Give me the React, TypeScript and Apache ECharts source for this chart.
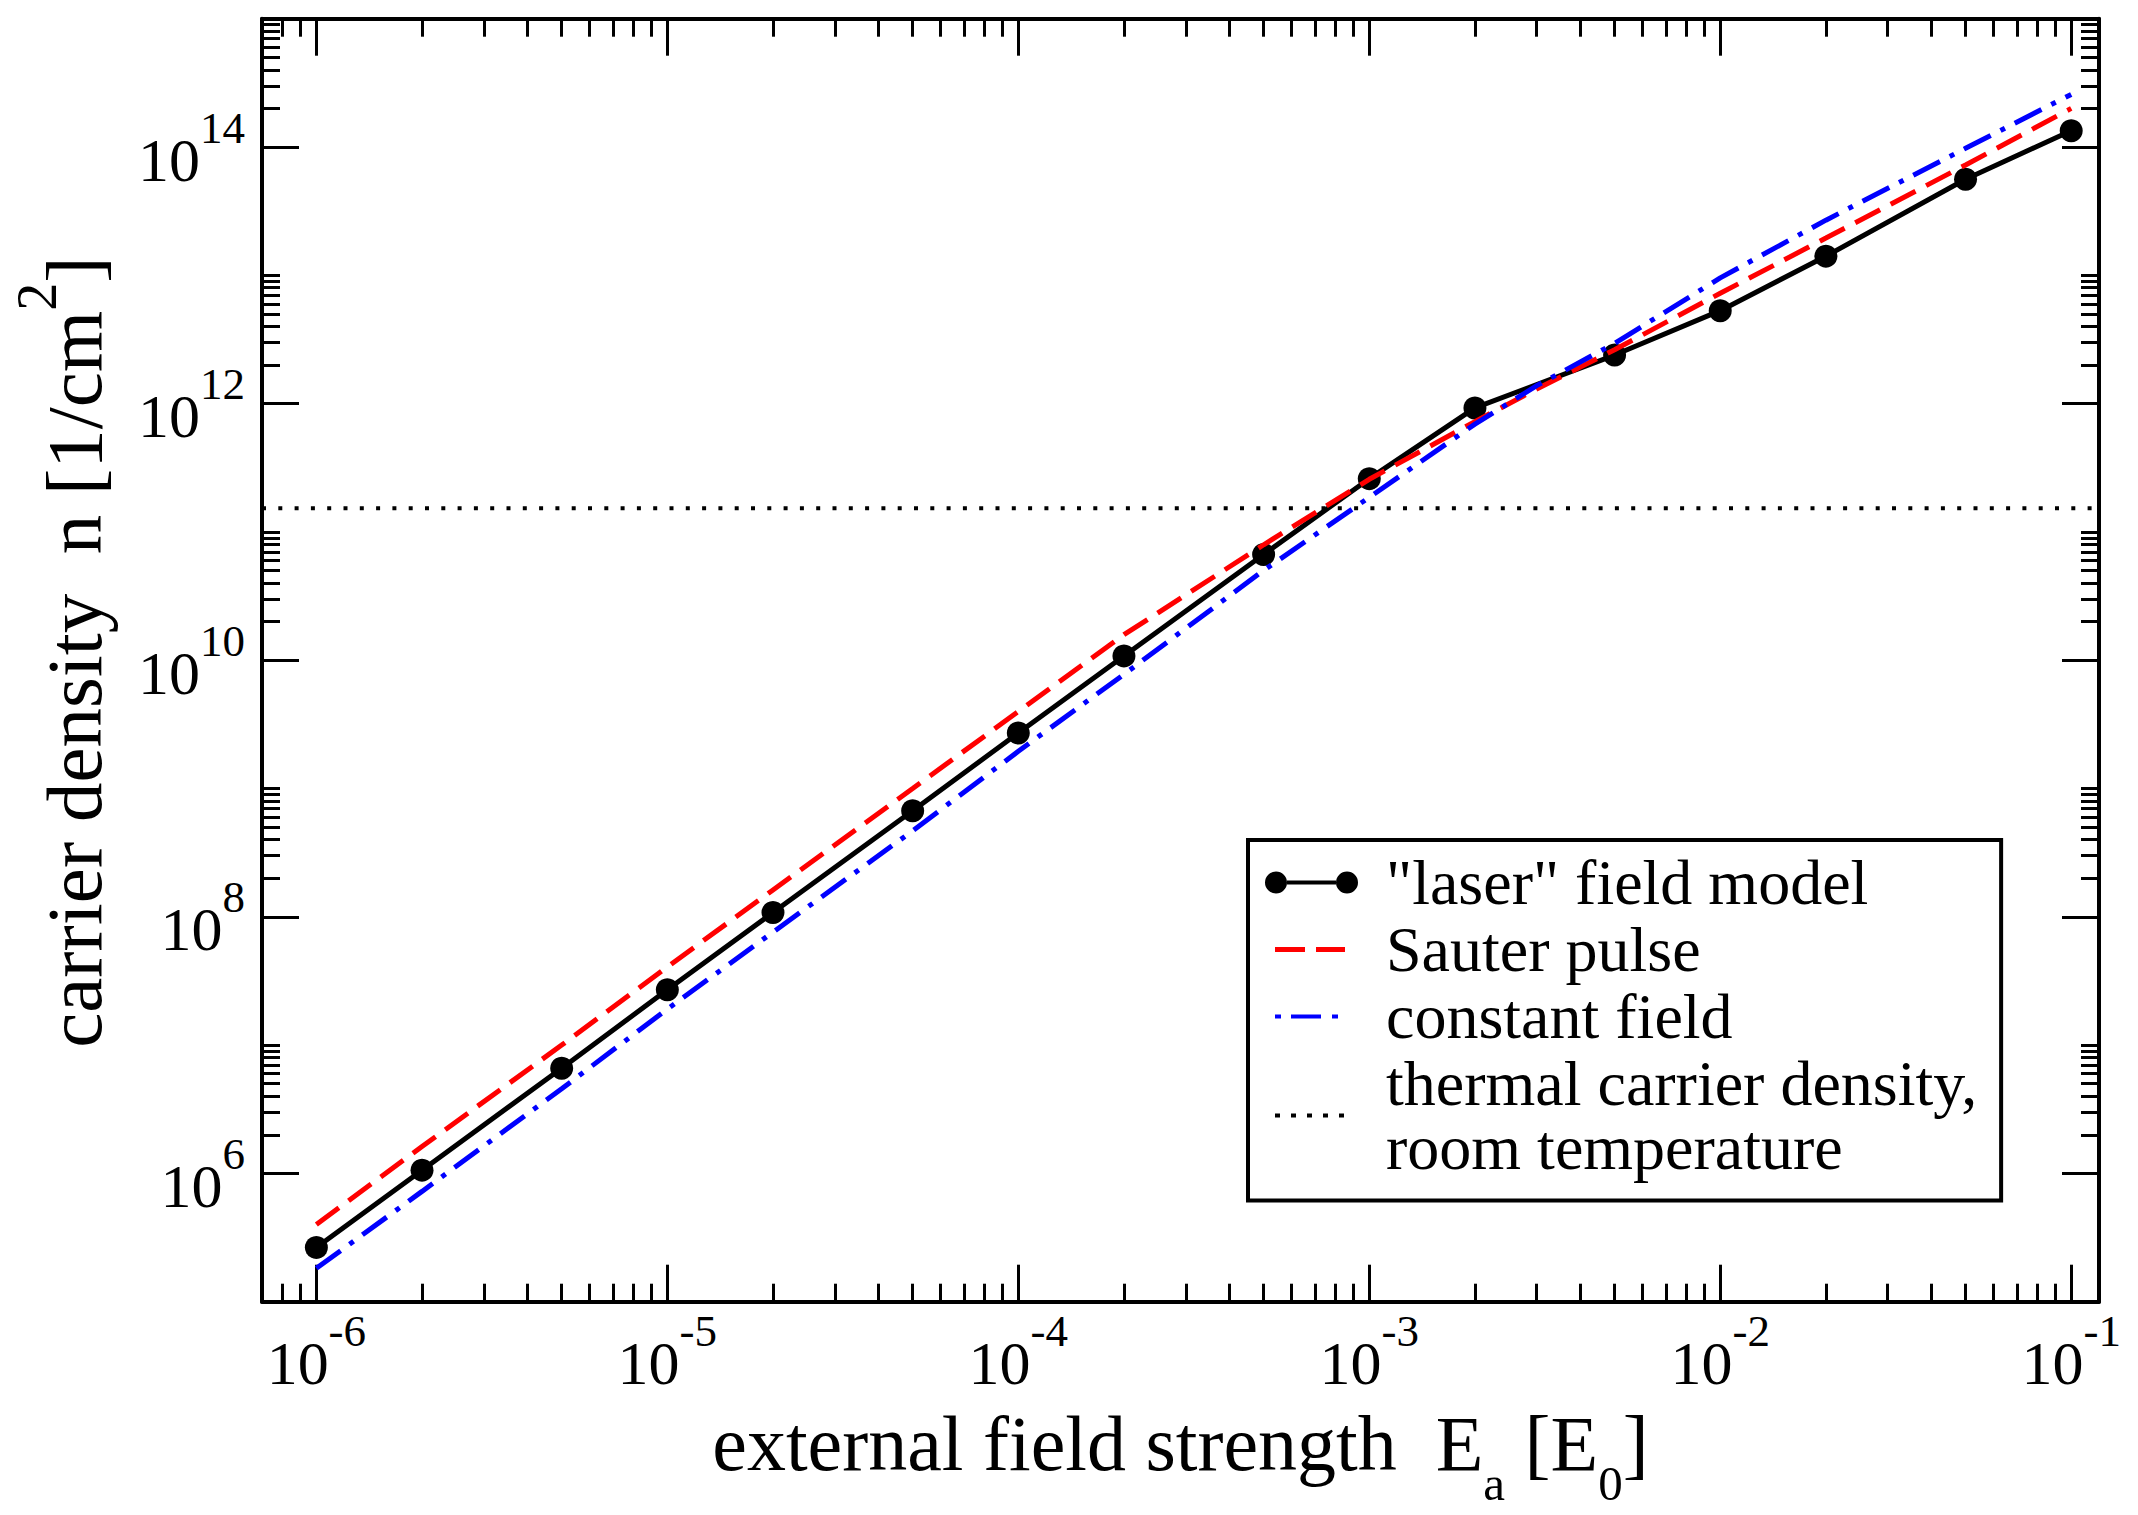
import React, { useEffect, useRef } from "react";
import * as echarts from "echarts";

// ---------- data ----------
const laserField = [1e-6, 2e-6, 5e-6, 1e-5, 2e-5, 5e-5, 1e-4, 2e-4, 5e-4, 1e-3, 2e-3, 5e-3, 1e-2, 2e-2, 5e-2, 1e-1];
const laserDensity = [2.65e5, 1.06e6, 6.6e6, 2.7e7, 1.08e8, 6.7e8, 2.71e9, 1.08e10, 6.67e10, 2.6e11, 9.25e11, 2.39e12, 5.3e12, 1.41e13, 5.6e13, 1.34e14];

const curveField = [1e-6, 2e-6, 5e-6, 1e-5, 2e-5, 5e-5, 1e-4, 2e-4, 5e-4, 1e-3, 2e-3, 3e-3, 5e-3, 1e-2, 2e-2, 5e-2, 1e-1];
const sauterDensity = [4.0e5, 1.62e6, 1.0e7, 4.07e7, 1.62e8, 1.0e9, 3.98e9, 1.58e10, 7.94e10, 2.57e11, 7.24e11, 1.3e12, 2.63e12, 7.24e12, 1.95e13, 7.24e13, 2.0e14];
const constantDensity = [1.82e5, 7.24e5, 4.57e6, 1.91e7, 7.59e7, 4.68e8, 1.95e9, 7.76e9, 5.01e10, 1.86e11, 6.92e11, 1.38e12, 2.95e12, 9.55e12, 2.69e13, 9.77e13, 2.57e14];

const thermalField = [7e-7, 0.12];
const thermalDensity = [1.53e11, 1.53e11];

const seriesNames = ['"laser" field model', "Sauter pulse", "constant field", "thermal carrier density, room temperature"];

// axis ranges and tick labels (exponents of ten)
const xMin = 7e-7;
const xMax = 0.12;
const yMin = 1e5;
const yMax = 1e15;
const xMajorExponents = [-6, -5, -4, -3, -2, -1];
const yMajorExponents = [6, 8, 10, 12, 14];
const xMinorDecades = [-7, -6, -5, -4, -3, -2];
const yMinorDecades = [6, 8, 10, 12, 14];

const FONT = "'Liberation Serif', 'Times New Roman', Times, serif";

const lg = Math.log10;

function pairs(xs: number[], ys: number[]) {
  return xs.map((x, i) => [lg(x), lg(ys[i])]);
}

export default function App() {
  const ref = useRef<HTMLDivElement>(null);

  useEffect(() => {
    if (!ref.current) return;
    const chart = echarts.init(ref.current, null, { renderer: "svg" });

    const lxMin = lg(xMin);
    const lxMax = lg(xMax);
    const lyMin = lg(yMin);
    const lyMax = lg(yMax);

    const xMinor: number[] = [];
    xMinorDecades.forEach((d) => {
      for (let k = 2; k <= 9; k++) {
        const v = lg(k) + d;
        if (v > lxMin + 0.01 && v < lxMax - 0.01) xMinor.push(v);
      }
    });
    const yMinor: number[] = [];
    yMinorDecades.forEach((d) => {
      for (let k = 2; k <= 10; k++) {
        const v = lg(k) + d;
        if (v > lyMin + 0.01 && v < lyMax - 0.01) yMinor.push(v);
      }
    });

    const axisLineStyle = { color: "#000", width: 4 };
    const tickStyle = { color: "#000", width: 3 };
    const labelRich = {
      b: { fontFamily: FONT, fontSize: 62, color: "#000", padding: [25, 0, 0, 0] },
      s: { fontFamily: FONT, fontSize: 45, color: "#000", padding: [0, 0, 39, 0] },
    };
    const fmt = (v: number) => `{b|10}{s|${Math.round(v)}}`;

    const xBase = (pos: "bottom" | "top", major: boolean, extra: any = {}) => ({
      type: "value",
      position: pos,
      min: lxMin,
      max: lxMax,
      axisLine: { show: major, onZero: false, lineStyle: axisLineStyle },
      axisTick: {
        show: true,
        inside: true,
        length: major ? 37 : 18,
        customValues: major ? xMajorExponents : xMinor,
        lineStyle: tickStyle,
      },
      axisLabel: { show: false },
      splitLine: { show: false },
      ...extra,
    });
    const yBase = (pos: "left" | "right", major: boolean, extra: any = {}) => ({
      type: "value",
      position: pos,
      min: lyMin,
      max: lyMax,
      axisLine: { show: major, onZero: false, lineStyle: axisLineStyle },
      axisTick: {
        show: true,
        inside: true,
        length: major ? 37 : 18,
        customValues: major ? yMajorExponents : yMinor,
        lineStyle: tickStyle,
      },
      axisLabel: { show: false },
      splitLine: { show: false },
      ...extra,
    });

    const option: any = {
      animation: false,
      backgroundColor: "#fff",
      grid: { left: 262, top: 18.7, width: 1837, height: 1283, containLabel: false, outerBoundsMode: "none" },
      xAxis: [
        xBase("bottom", true, {
          axisLabel: {
            show: true,
            customValues: xMajorExponents,
            formatter: fmt,
            rich: labelRich,
            margin: 5,
          },
          name: "{m|external field strength  E}{sub|a}{m| [E}{sub|0}{m|]}",
          nameLocation: "middle",
          nameGap: 77,
          nameMoveOverlap: false,
          nameTextStyle: {
            rich: {
              m: { fontFamily: FONT, fontSize: 78, color: "#000" },
              sub: { fontFamily: FONT, fontSize: 49, color: "#000", padding: [80, 0, 0, 0] },
            },
          },
        }),
        xBase("bottom", false),
        xBase("top", true),
        xBase("top", false),
      ],
      yAxis: [
        yBase("left", true, {
          axisLabel: {
            show: true,
            customValues: yMajorExponents,
            formatter: fmt,
            rich: labelRich,
            margin: 17,
          },
          name: "{m0|carrier density  n [1/cm}{sup|2}{m|]}",
          nameLocation: "middle",
          nameGap: 123,
          nameMoveOverlap: false,
          nameTextStyle: {
            rich: {
              m0: { fontFamily: FONT, fontSize: 79, color: "#000", padding: [0, 0, 0, 16] },
              m: { fontFamily: FONT, fontSize: 79, color: "#000" },
              sup: { fontFamily: FONT, fontSize: 56, color: "#000", padding: [0, 0, 74, 0] },
            },
          },
        }),
        yBase("left", false),
        yBase("right", true),
        yBase("right", false),
      ],
      legend: {
        orient: "vertical",
        left: 1248,
        top: 840,
        padding: [10.5, 24, 21, 17],
        itemGap: 3,
        itemWidth: 93,
        itemHeight: 24,
        borderColor: "#000",
        borderWidth: 4,
        borderRadius: 0,
        backgroundColor: "#fff",
        selectedMode: false,
        itemStyle: { borderWidth: 0 },
        textStyle: { fontFamily: FONT, fontSize: 64, lineHeight: 64, color: "#000", padding: [0, 0, 0, 23] },
        formatter: (name: string) => (name === seriesNames[3] ? "thermal carrier density,\nroom temperature" : name),
        data: [
          {
            name: seriesNames[0],
            icon: "path://M0,0M93,24M0,12A11,11,0,1,1,22,12A11,11,0,1,1,0,12ZM22,10L71,10L71,14L22,14ZM71,12A11,11,0,1,1,93,12A11,11,0,1,1,71,12Z",
          },
          {
            name: seriesNames[1],
            icon: "path://M0,0M93,24M10,9.5L40,9.5L40,14.5L10,14.5ZM51,9.5L80,9.5L80,14.5L51,14.5Z",
          },
          {
            name: seriesNames[2],
            icon: "path://M0,0M93,24M10,10L16,10L16,14L10,14ZM26,10L56,10L56,14L26,14ZM67,10L73,10L73,14L67,14Z",
          },
          {
            name: seriesNames[3],
            icon: "path://M0,0M93,24M10,10L15,10L15,14L10,14ZM26,10L31,10L31,14L26,14ZM42,10L47,10L47,14L42,14ZM58,10L63,10L63,14L58,14ZM74,10L79,10L79,14L74,14Z",
          },
        ],
      },
      series: [
        {
          name: seriesNames[0],
          type: "line",
          data: pairs(laserField, laserDensity),
          symbol: "circle",
          symbolSize: 23,
          color: "#000",
          itemStyle: { color: "#000", borderWidth: 0 },
          lineStyle: { color: "#000", width: 5 },
          z: 2,
        },
        {
          name: seriesNames[1],
          type: "line",
          data: pairs(curveField, sauterDensity),
          showSymbol: false,
          symbol: "none",
          color: "#ff0000",
          lineStyle: { color: "#ff0000", width: 5, type: [28, 12], cap: "butt" },
          z: 3,
        },
        {
          name: seriesNames[2],
          type: "line",
          data: pairs(curveField, constantDensity),
          showSymbol: false,
          symbol: "none",
          color: "#0000ff",
          lineStyle: { color: "#0000ff", width: 5, type: [30, 11, 5, 11], cap: "butt" },
          z: 4,
        },
        {
          name: seriesNames[3],
          type: "line",
          data: pairs(thermalField, thermalDensity),
          showSymbol: false,
          symbol: "none",
          color: "#000",
          lineStyle: { color: "#000", width: 4, type: [4, 12.3], cap: "butt" },
          z: 1,
        },
      ],
    };

    chart.setOption(option);
    return () => chart.dispose();
  }, []);

  return (
    <div
      ref={ref}
      style={{ position: "absolute", left: 0, top: 0, width: 2138, height: 1515, background: "#fff" }}
    />
  );
}
